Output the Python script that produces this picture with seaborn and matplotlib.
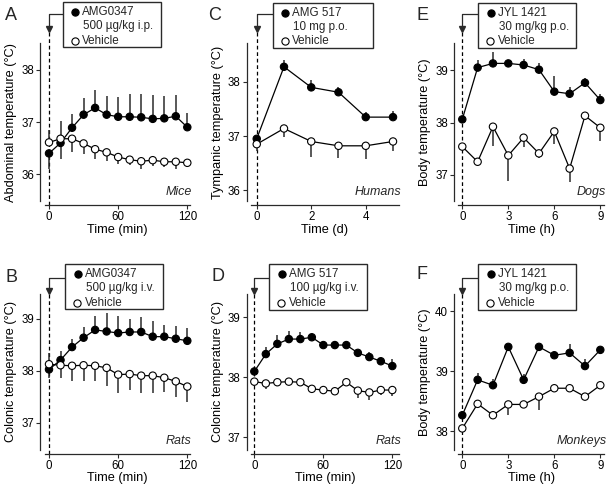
import numpy as np
import pandas as pd
import matplotlib
matplotlib.use("Agg")
import matplotlib.pyplot as plt
import matplotlib.transforms as mtransforms
from matplotlib.patches import Rectangle
import seaborn as sns

sns.set_theme(style="ticks")
plt.rcParams["font.family"] = ["Liberation Sans", "DejaVu Sans"]

# ---------------- data ----------------
time_min = [0, 10, 20, 30, 40, 50, 60, 70, 80, 90, 100, 110, 120]
time_d = [0, 1, 2, 3, 4, 5]
time_h = [0, 1, 2, 3, 4, 5, 6, 7, 8, 9]

A_drug = [36.40, 36.60, 36.89, 37.14, 37.27, 37.14, 37.10, 37.10, 37.09, 37.06, 37.07, 37.11, 36.90]
A_drug_err = [0.29, 0.30, 0.27, 0.32, 0.35, 0.35, 0.38, 0.44, 0.44, 0.45, 0.42, 0.40, 0.28]
A_veh = [36.61, 36.68, 36.68, 36.59, 36.48, 36.42, 36.33, 36.28, 36.25, 36.27, 36.24, 36.24, 36.22]
A_veh_err = [0.23, 0.33, 0.26, 0.21, 0.18, 0.17, 0.13, 0.10, 0.15, 0.12, 0.10, 0.13, 0.08]

B_drug = [38.03, 38.21, 38.46, 38.64, 38.79, 38.76, 38.73, 38.75, 38.75, 38.66, 38.66, 38.62, 38.58]
B_drug_err = [0.16, 0.17, 0.16, 0.20, 0.26, 0.35, 0.33, 0.25, 0.28, 0.31, 0.23, 0.25, 0.25]
B_veh = [38.13, 38.11, 38.10, 38.11, 38.10, 38.06, 37.93, 37.94, 37.91, 37.91, 37.87, 37.80, 37.70]
B_veh_err = [0.21, 0.24, 0.30, 0.30, 0.30, 0.35, 0.35, 0.30, 0.33, 0.33, 0.28, 0.30, 0.30]

C_drug = [36.95, 38.28, 37.90, 37.81, 37.35, 37.35]
C_drug_err = [0.05, 0.12, 0.13, 0.10, 0.10, 0.11]
C_veh = [36.85, 37.14, 36.90, 36.82, 36.82, 36.90]
C_veh_err = [0.12, 0.16, 0.28, 0.22, 0.25, 0.18]

D_drug = [38.10, 38.39, 38.56, 38.64, 38.64, 38.67, 38.54, 38.54, 38.54, 38.41, 38.34, 38.27, 38.19]
D_drug_err = [0.04, 0.12, 0.15, 0.14, 0.12, 0.06, 0.04, 0.04, 0.04, 0.05, 0.08, 0.05, 0.11]
D_veh = [37.93, 37.90, 37.92, 37.93, 37.92, 37.81, 37.79, 37.77, 37.92, 37.78, 37.75, 37.79, 37.79]
D_veh_err = [0.08, 0.10, 0.06, 0.03, 0.04, 0.03, 0.03, 0.03, 0.05, 0.13, 0.12, 0.08, 0.10]

E_drug = [38.06, 39.05, 39.13, 39.13, 39.10, 39.01, 38.59, 38.55, 38.76, 38.43]
E_drug_err = [0.0, 0.15, 0.21, 0.05, 0.12, 0.13, 0.29, 0.12, 0.10, 0.12]
E_veh = [37.54, 37.25, 37.92, 37.37, 37.71, 37.41, 37.83, 37.12, 38.13, 37.90]
E_veh_err = [0.0, 0.0, 0.36, 0.48, 0.17, 0.09, 0.24, 0.25, 0.0, 0.26]

F_drug = [38.27, 38.86, 38.77, 39.41, 38.86, 39.41, 39.27, 39.31, 39.09, 39.36]
F_drug_err = [0.0, 0.12, 0.10, 0.03, 0.10, 0.05, 0.05, 0.14, 0.11, 0.05]
F_veh = [38.05, 38.46, 38.27, 38.45, 38.45, 38.58, 38.72, 38.72, 38.58, 38.77]
F_veh_err = [0.0, 0.0, 0.05, 0.17, 0.04, 0.22, 0.03, 0.03, 0.06, 0.06]

ticks_min = [0, 60, 120]
ticks_d = [0, 2, 4]
ticks_h = [0, 3, 6, 9]

# ---------------- layout (pixels) ----------------
W, H = 608, 490
fig = plt.figure(figsize=(W / 100, H / 100), dpi=100)

panels = [
    dict(letter="A", x=time_min, drug=A_drug, de=A_drug_err, veh=A_veh, ve=A_veh_err,
         box=(44.5, 43, 189.5, 201), xlim=(-3.9, 121.9), ylim=(35.49, 38.51),
         xt=ticks_min, yt=[36, 37, 38], xl="Time (min)", yl="Abdominal temperature (°C)",
         sp="Mice", leg=("AMG0347", "500 µg/kg i.p.", "Vehicle"),
         lbox=(62.7, 2, 161, 47), cy=14, tip=29, lab=(11, 15), xly=230.5),
    dict(letter="C", x=time_d, drug=C_drug, de=C_drug_err, veh=C_veh, ve=C_veh_err,
         box=(251, 43, 399, 201), xlim=(-0.21, 5.22), ylim=(35.80, 38.72),
         xt=ticks_d, yt=[36, 37, 38], xl="Time (d)", yl="Tympanic temperature (°C)",
         sp="Humans", leg=("AMG 517", "10 mg p.o.", "Vehicle"),
         lbox=(272.7, 2.5, 373.3, 48), cy=14, tip=29, lab=(215, 15), xly=230.5),
    dict(letter="E", x=time_h, drug=E_drug, de=E_drug_err, veh=E_veh, ve=E_veh_err,
         box=(458.3, 43, 604.3, 201), xlim=(-0.26, 9.26), ylim=(36.50, 39.52),
         xt=ticks_h, yt=[37, 38, 39], xl="Time (h)", yl="Body temperature (°C)",
         sp="Dogs", leg=("JYL 1421", "30 mg/kg p.o.", "Vehicle"),
         lbox=(478.3, 2.5, 575.7, 48), cy=14, tip=29, lab=(422, 15), xly=230.5),
    dict(letter="B", x=time_min, drug=B_drug, de=B_drug_err, veh=B_veh, ve=B_veh_err,
         box=(44.5, 293.5, 189.5, 450), xlim=(-3.9, 121.9), ylim=(36.48, 39.49),
         xt=ticks_min, yt=[37, 38, 39], xl="Time (min)", yl="Colonic temperature (°C)",
         sp="Rats", leg=("AMG0347", "500 µg/kg i.v.", "Vehicle"),
         lbox=(65, 264, 163, 309), cy=277.5, tip=291, lab=(11.5, 277.5), xly=478.5),
    dict(letter="D", x=time_min, drug=D_drug, de=D_drug_err, veh=D_veh, ve=D_veh_err,
         box=(251, 293.5, 399, 450), xlim=(-2.9, 125.8), ylim=(36.79, 39.40),
         xt=ticks_min, yt=[37, 38, 39], xl="Time (min)", yl="Colonic temperature (°C)",
         sp="Rats", leg=("AMG 517", "100 µg/kg i.v.", "Vehicle"),
         lbox=(269.3, 264, 366.7, 309.5), cy=277.5, tip=291, lab=(218, 276.5), xly=478.5),
    dict(letter="F", x=time_h, drug=F_drug, de=F_drug_err, veh=F_veh, ve=F_veh_err,
         box=(458.3, 293.5, 604.3, 450), xlim=(-0.26, 9.26), ylim=(37.69, 40.30),
         xt=ticks_h, yt=[38, 39, 40], xl="Time (h)", yl="Body temperature (°C)",
         sp="Monkeys", leg=("JYL 1421", "30 mg/kg p.o.", "Vehicle"),
         lbox=(478.3, 264, 575.7, 309.5), cy=277.5, tip=291, lab=(422, 274), xly=478.5),
]

AX_COL = "#2a2a2a"


def fx(x):
    return x / W


def fy(y):
    return 1 - y / H


for p in panels:
    l, t, r, b = p["box"]
    ax = fig.add_axes([fx(l), fy(b), (r - l) / W, (b - t) / H])
    axw, axh = r - l, b - t

    def axx(xp):
        return (xp - l) / axw

    def axy(yp):
        return (b - yp) / axh

    n = len(p["x"])
    df = pd.DataFrame({
        "time": list(p["x"]) * 2,
        "temp": list(p["drug"]) + list(p["veh"]),
        "group": ["drug"] * n + ["veh"] * n,
    })

    # connecting lines
    sns.lineplot(data=df, x="time", y="temp", hue="group",
                 palette={"drug": "black", "veh": "black"}, linewidth=0.9,
                 legend=False, ax=ax, errorbar=None, sort=False, zorder=2)

    # one-sided error bars (pointing away from the other group)
    d = np.array(p["drug"]); v = np.array(p["veh"])
    up = d >= v
    xs = np.array(p["x"], dtype=float)
    ax.vlines(xs, d, d + np.where(up, 1, -1) * np.array(p["de"]),
              color="#2b2b2b", lw=1.1, zorder=1.5)
    ax.vlines(xs, v, v + np.where(up, -1, 1) * np.array(p["ve"]),
              color="#2b2b2b", lw=1.1, zorder=1.5)

    # markers
    sns.scatterplot(data=df, x="time", y="temp", hue="group",
                    palette={"drug": "black", "veh": "white"}, s=28,
                    edgecolor="black", linewidth=0.8, legend=False, ax=ax, zorder=4,
                    clip_on=False)

    ax.set_xlim(*p["xlim"])
    ax.set_ylim(*p["ylim"])
    ax.set_xticks(p["xt"])
    ax.set_yticks(p["yt"])
    ax.set_xticklabels([str(v_) for v_ in p["xt"]])
    ax.set_yticklabels([str(v_) for v_ in p["yt"]])
    ax.tick_params(axis="both", direction="out", length=3, width=0.8,
                   color=AX_COL, labelsize=8.3, pad=1.5, labelcolor="black")
    ax.set_xlabel(p["xl"], fontsize=9.2, color="black")
    ax.set_ylabel(p["yl"], fontsize=9.2, color="black")
    ax.xaxis.set_label_coords(0.5, axy(p["xly"] - 6.5))
    ax.yaxis.set_label_coords(axx(l - 27), 0.5)

    sns.despine(ax=ax, offset={"left": 3, "bottom": 3})
    for s_ in ("left", "bottom"):
        ax.spines[s_].set_color(AX_COL)
        ax.spines[s_].set_linewidth(0.9)
    ax.patch.set_alpha(0)

    # species label
    ax.text(axx(r + 2), axy(b - 9), p["sp"], ha="right", va="center",
            fontsize=9, style="italic", transform=ax.transAxes)

    # dashed injection line + arrow connector
    blend = mtransforms.blended_transform_factory(ax.transData, ax.transAxes)
    ax.plot([0, 0], [axy(b + 4), axy(p["tip"] + 2)], transform=blend,
            color="black", lw=0.9, ls=(0, (3, 2.2)), clip_on=False, zorder=1)
    lb = p["lbox"]
    x0_ax = ax.transAxes.inverted().transform(ax.transData.transform((0, 0)))[0]
    ax.plot([axx(lb[0]), x0_ax, x0_ax], [axy(p["cy"]), axy(p["cy"]), axy(p["tip"] - 3)],
            transform=ax.transAxes, color=AX_COL, lw=0.9, clip_on=False, zorder=3)
    ax.plot([x0_ax], [axy(p["tip"])], transform=ax.transAxes, marker="v",
            ms=4, color=AX_COL, clip_on=False, zorder=3)

    # legend box
    ax.add_patch(Rectangle((axx(lb[0]), axy(lb[3])), (lb[2] - lb[0]) / axw,
                           (lb[3] - lb[1]) / axh, transform=ax.transAxes,
                           facecolor="white", edgecolor=AX_COL, lw=1.0,
                           clip_on=False, zorder=5))
    tl, tt = lb[0], lb[1]
    ax.plot([axx(tl + 12.5)], [axy(tt + 10)], transform=ax.transAxes, marker="o",
            ms=5.2, mfc="black", mec="black", mew=0.8, clip_on=False, zorder=6)
    ax.plot([axx(tl + 12)], [axy(tt + 38.5)], transform=ax.transAxes, marker="o",
            ms=5.2, mfc="white", mec="black", mew=0.8, clip_on=False, zorder=6)
    ax.text(axx(tl + 19.5), axy(tt + 10), p["leg"][0], fontsize=8.4, va="center",
            ha="left", transform=ax.transAxes, zorder=6)
    ax.text(axx(tl + 20.5), axy(tt + 24), p["leg"][1], fontsize=8.4, va="center",
            ha="left", transform=ax.transAxes, zorder=6)
    ax.text(axx(tl + 19.5), axy(tt + 38.5), p["leg"][2], fontsize=8.4, va="center",
            ha="left", transform=ax.transAxes, zorder=6)

    # panel letter
    fig.text(fx(p["lab"][0]), fy(p["lab"][1]), p["letter"], fontsize=13,
             ha="center", va="center")

fig.savefig("out.png", dpi=100, facecolor="white")
